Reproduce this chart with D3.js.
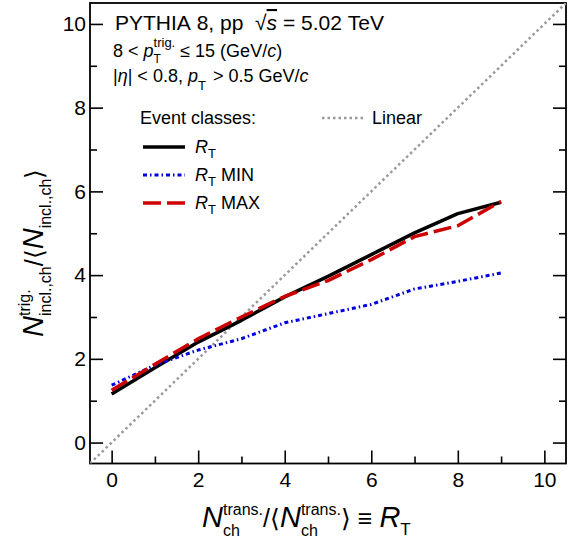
<!DOCTYPE html>
<html>
<head>
<meta charset="utf-8">
<script src="https://cdn.jsdelivr.net/npm/d3@7"></script>
<style>
  html, body { margin: 0; padding: 0; background: #fff; }
  svg { display: block; }
  text { font-family: "Liberation Sans", Arimo, Helvetica, Arial, sans-serif; fill: #000; white-space: pre; }
</style>
</head>
<body>
<svg id="chart" width="582" height="539"></svg>
<script>
// ---- data ----
const rtBins   = [0, 1, 2, 3, 4, 5, 6, 7, 8, 9];
const rtAll    = [1.16, 1.79, 2.40, 2.92, 3.48, 3.97, 4.49, 5.01, 5.47, 5.74];
const rtMin    = [1.37, 1.85, 2.21, 2.48, 2.86, 3.08, 3.30, 3.67, 3.85, 4.05];
const rtMax    = [1.25, 1.87, 2.48, 3.00, 3.49, 3.87, 4.37, 4.92, 5.18, 5.76];
const linearX  = [-0.5, 10.5];
const xMajorTicks = [0, 2, 4, 6, 8, 10];
const xMinorTicks = [1, 3, 5, 7, 9];
const yMajorTicks = [0, 2, 4, 6, 8, 10];
const yMinorTicks = [1, 3, 5, 7, 9];

const FONT = '"Liberation Sans", Arimo, Helvetica, Arial, sans-serif';
const NB = s => s.replace(/ /g, '\u00A0');
const svg = d3.select('#chart');
const L = 90, R = 566, T = 3, B = 463.5;
const x = d3.scaleLinear().domain([-0.5, 10.5]).range([L, R]);
const y = d3.scaleLinear().domain([-0.5, 10.5]).range([B, T]);

svg.append('defs').append('clipPath').attr('id', 'clip')
  .append('rect').attr('x', L).attr('y', T).attr('width', R - L).attr('height', B - T);

// ---- axes ----
function styleAxis(g) {
  g.select('.domain').remove();
  g.selectAll('line').attr('stroke', '#000').attr('stroke-width', 1.6);
  g.selectAll('text').style('font-family', FONT).style('font-size', '21px').attr('fill', '#000');
}
svg.append('g').attr('transform', `translate(0,${B})`)
  .call(d3.axisBottom(x).tickValues(xMajorTicks).tickSize(-13).tickPadding(9).tickFormat(d3.format('d')))
  .call(styleAxis);
svg.append('g').attr('transform', `translate(0,${B})`)
  .call(d3.axisBottom(x).tickValues(xMinorTicks).tickSize(-7).tickFormat(''))
  .call(styleAxis);
svg.append('g').attr('transform', `translate(${L},0)`)
  .call(d3.axisLeft(y).tickValues(yMajorTicks).tickSize(-13).tickPadding(4).tickFormat(d3.format('d')))
  .call(styleAxis);
svg.append('g').attr('transform', `translate(${L},0)`)
  .call(d3.axisLeft(y).tickValues(yMinorTicks).tickSize(-7).tickFormat(''))
  .call(styleAxis);
svg.append('g').attr('transform', `translate(${R},0)`)
  .call(d3.axisRight(y).tickValues(yMajorTicks).tickSize(-13).tickFormat(''))
  .call(styleAxis);
svg.append('g').attr('transform', `translate(${R},0)`)
  .call(d3.axisRight(y).tickValues(yMinorTicks).tickSize(-7).tickFormat(''))
  .call(styleAxis);

// frame
svg.append('rect').attr('x', L).attr('y', T).attr('width', R - L).attr('height', B - T)
  .attr('fill', 'none').attr('stroke', '#000').attr('stroke-width', 1.8);

// ---- series ----
const plot = svg.append('g').attr('clip-path', 'url(#clip)');
const line = d3.line().x(d => x(d[0])).y(d => y(d[1]));

plot.append('path').datum(linearX.map(v => [v, v])).attr('d', line)
  .attr('fill', 'none').attr('stroke', '#999').attr('stroke-width', 2.5).attr('stroke-dasharray', '2.5,3');

const series = [
  { vals: rtAll, color: '#000', width: 3.5, dash: null, label: '' },
  { vals: rtMin, color: '#0000dd', width: 3, dash: '4,3,1.5,3', label: ' MIN' },
  { vals: rtMax, color: '#cc0000', width: 3.5, dash: '18,6', label: ' MAX' }
];
series.forEach(s => {
  plot.append('path').datum(rtBins.map((b, i) => [b, s.vals[i]])).attr('d', line)
    .attr('fill', 'none').attr('stroke', s.color).attr('stroke-width', s.width)
    .attr('stroke-dasharray', s.dash).attr('stroke-linejoin', 'round');
});

// ---- rich text helper ----
function rich(g, parts) {
  let cx = 0;
  function put(p, xx) {
    const t = g.append('text').attr('x', xx).attr('y', p.dy || 0)
      .style('font-size', p.size + 'px')
      .style('font-style', p.it ? 'italic' : 'normal')
      .text(NB(p.t));
    if (p.over) t.style('text-decoration', 'overline');
    return t.node().getComputedTextLength();
  }
  parts.forEach(p => {
    if (p.sup || p.sub) {
      let w = 0;
      if (p.sup) w = Math.max(w, put(p.sup, cx + (p.sup.dx || 0)) + (p.sup.dx || 0));
      if (p.sub) w = Math.max(w, put(p.sub, cx + (p.sub.dx || 0)) + (p.sub.dx || 0));
      cx += w + (p.gap || 0);
    } else {
      cx += (p.dx || 0);
      cx += put(p, cx);
    }
  });
  return cx;
}

// ---- header texts ----
rich(svg.append('g').attr('transform', 'translate(115,30)'), [
  { t: 'PYTHIA 8, pp  \u221A', size: 21 },
  { t: 's', size: 21, it: true, over: true },
  { t: ' = 5.02 TeV', size: 21 }
]);
rich(svg.append('g').attr('transform', 'translate(113,57)'), [
  { t: '8 < ', size: 18 },
  { t: 'p', size: 18, it: true },
  { sup: { t: 'trig.', size: 13, dy: -10 }, sub: { t: 'T', size: 12, dy: 6 } },
  { t: ' \u2264 15 (GeV/', size: 18 },
  { t: 'c', size: 18, it: true },
  { t: ')', size: 18 }
]);
rich(svg.append('g').attr('transform', 'translate(113,82)'), [
  { t: '|', size: 18 },
  { t: '\u03B7', size: 18, it: true },
  { t: '| < 0.8, ', size: 18 },
  { t: 'p', size: 18, it: true },
  { sub: { t: 'T', size: 13, dy: 8 }, gap: 2 },
  { t: ' > 0.5 GeV/', size: 18 },
  { t: 'c', size: 18, it: true }
]);

// ---- legend ----
svg.append('text').attr('x', 140).attr('y', 124).style('font-size', '18px').text('Event classes:');
const legY = [147, 175, 203];
series.forEach((s, i) => {
  svg.append('line').attr('x1', 143).attr('x2', 185).attr('y1', legY[i]).attr('y2', legY[i])
    .attr('stroke', s.color).attr('stroke-width', s.width).attr('stroke-dasharray', s.dash);
  rich(svg.append('g').attr('transform', `translate(195,${legY[i] + 6})`), [
    { t: 'R', size: 18, it: true },
    { sub: { t: 'T', size: 13, dy: 5 } },
    { t: s.label, size: 18 }
  ]);
});
svg.append('line').attr('x1', 322).attr('x2', 363).attr('y1', 118).attr('y2', 118)
  .attr('stroke', '#999').attr('stroke-width', 2.5).attr('stroke-dasharray', '2.5,3');
svg.append('text').attr('x', 372).attr('y', 124).style('font-size', '18px').text('Linear');

// ---- axis titles ----
rich(svg.append('g').attr('transform', 'translate(202,527)'), [
  { t: 'N', size: 29, it: true },
  { sup: { t: 'trans.', size: 16, dy: -12 }, sub: { t: 'ch', size: 16, dy: 9 } },
  { t: '/\u27E8', size: 25 },
  { t: 'N', size: 29, it: true },
  { sup: { t: 'trans.', size: 16, dy: -12 }, sub: { t: 'ch', size: 16, dy: 9 } },
  { t: '\u27E9 \u2261 ', size: 25 },
  { t: 'R', size: 29, it: true },
  { sub: { t: 'T', size: 17, dy: 8 } }
]);
rich(svg.append('g').attr('transform', 'translate(43,337) rotate(-90)'), [
  { t: 'N', size: 29, it: true },
  { sup: { t: 'trig.', size: 16, dy: -13 }, sub: { t: 'incl.,ch', size: 16, dy: 8 } },
  { t: '/\u27E8', size: 25 },
  { t: 'N', size: 29, it: true },
  { sub: { t: 'incl.,ch', size: 16, dy: 8 } },
  { t: '\u27E9', size: 25 }
]);
</script>
</body>
</html>
